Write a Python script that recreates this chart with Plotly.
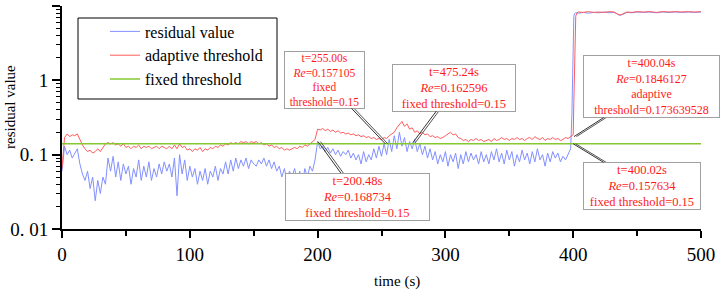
import math
import plotly.graph_objects as go

# ---------------- data ----------------
time_main = list(range(0, 400, 2))  # seconds, 2 s grid up to the fault

residual_main = [
    0.06, 0.13, 0.10, 0.115, 0.09, 0.105, 0.12, 0.075, 0.055, 0.045,
    0.06, 0.035, 0.05, 0.024, 0.045, 0.03, 0.05, 0.04, 0.09, 0.06,
    0.095, 0.05, 0.08, 0.045, 0.075, 0.055, 0.07, 0.04, 0.065, 0.05,
    0.085, 0.045, 0.07, 0.05, 0.08, 0.045, 0.065, 0.05, 0.075, 0.055,
    0.08, 0.06, 0.075, 0.05, 0.09, 0.028, 0.10, 0.055, 0.085, 0.045,
    0.07, 0.05, 0.065, 0.04, 0.06, 0.045, 0.065, 0.04, 0.06, 0.05,
    0.07, 0.045, 0.065, 0.055, 0.08, 0.055, 0.085, 0.06, 0.09, 0.065,
    0.085, 0.07, 0.09, 0.065, 0.085, 0.075, 0.07, 0.085, 0.075, 0.09,
    0.07, 0.085, 0.065, 0.08, 0.06, 0.07, 0.05, 0.065, 0.045, 0.06,
    0.05, 0.065, 0.045, 0.06, 0.04, 0.065, 0.05, 0.07, 0.06, 0.085,
    0.15, 0.12, 0.13, 0.11, 0.125, 0.105, 0.12, 0.10, 0.115, 0.095,
    0.11, 0.10, 0.115, 0.09, 0.105, 0.085, 0.10, 0.075, 0.11, 0.08,
    0.10, 0.085, 0.12, 0.09, 0.13, 0.095, 0.14, 0.10, 0.16, 0.11,
    0.18, 0.12, 0.20, 0.13, 0.17, 0.11, 0.15, 0.12, 0.16, 0.11,
    0.14, 0.10, 0.13, 0.09, 0.12, 0.085, 0.11, 0.075, 0.10, 0.08,
    0.11, 0.07, 0.10, 0.08, 0.105, 0.065, 0.10, 0.075, 0.11, 0.08,
    0.105, 0.085, 0.10, 0.075, 0.11, 0.08, 0.10, 0.075, 0.11, 0.085,
    0.12, 0.08, 0.105, 0.075, 0.115, 0.085, 0.11, 0.07, 0.10, 0.08,
    0.115, 0.085, 0.105, 0.075, 0.11, 0.08, 0.12, 0.085, 0.10, 0.07,
    0.105, 0.08, 0.11, 0.09, 0.105, 0.08, 0.095, 0.085, 0.10, 0.12,
]

adaptive_main = [
    0.065, 0.17, 0.19, 0.175, 0.185, 0.18, 0.19, 0.16, 0.135, 0.12,
    0.11, 0.115, 0.105, 0.11, 0.12, 0.11, 0.125, 0.14, 0.145, 0.14,
    0.145, 0.135, 0.14, 0.13, 0.14, 0.125, 0.13, 0.12, 0.13, 0.125,
    0.135, 0.12, 0.13, 0.125, 0.13, 0.12, 0.125, 0.13, 0.12, 0.13,
    0.125, 0.12, 0.13, 0.12, 0.135, 0.12, 0.14, 0.125, 0.13, 0.115,
    0.12, 0.11, 0.12, 0.115, 0.125, 0.11, 0.12, 0.115, 0.125, 0.12,
    0.13, 0.125, 0.135, 0.13, 0.14, 0.135, 0.145, 0.14, 0.145, 0.14,
    0.15, 0.145, 0.15, 0.14, 0.15, 0.145, 0.15, 0.14, 0.145, 0.135,
    0.14, 0.13, 0.135, 0.125, 0.13, 0.12, 0.125, 0.115, 0.12, 0.115,
    0.12, 0.125, 0.12, 0.13, 0.125, 0.135, 0.13, 0.14, 0.15, 0.16,
    0.22, 0.215, 0.225, 0.21, 0.22, 0.205, 0.215, 0.20, 0.21, 0.195,
    0.20, 0.19, 0.195, 0.185, 0.19, 0.18, 0.185, 0.175, 0.18, 0.17,
    0.175, 0.165, 0.17, 0.16, 0.165, 0.16, 0.17, 0.165, 0.18, 0.19,
    0.20, 0.23, 0.25, 0.28, 0.24, 0.26, 0.22, 0.23, 0.20, 0.21,
    0.19, 0.20, 0.185, 0.19, 0.175, 0.18, 0.17, 0.175, 0.165, 0.17,
    0.18, 0.19, 0.20, 0.185, 0.19, 0.17, 0.165, 0.155, 0.16, 0.15,
    0.16, 0.155, 0.165, 0.155, 0.16, 0.15, 0.155, 0.16, 0.15, 0.165,
    0.155, 0.16, 0.17, 0.16, 0.165, 0.155, 0.165, 0.16, 0.17, 0.16,
    0.165, 0.155, 0.165, 0.17, 0.16, 0.175, 0.165, 0.16, 0.17, 0.155,
    0.165, 0.16, 0.17, 0.16, 0.165, 0.155, 0.16, 0.17, 0.165, 0.175,
]

time_fault_res = [399, 399.5, 400, 400.5, 401, 402, 404, 408, 412, 416, 420, 424, 428,
                  432, 434, 436, 438, 440, 442, 446, 450, 455, 460, 465, 470, 475,
                  480, 485, 490, 495, 500]
residual_fault = [0.35, 1.5, 5.0, 7.2, 7.9, 8.1, 8.0, 8.2, 8.0, 8.2, 8.1, 8.3, 8.1,
                  8.2, 7.9, 7.5, 7.6, 8.0, 8.2, 8.1, 8.3, 8.2, 8.3, 8.1, 8.3, 8.2,
                  8.3, 8.2, 8.3, 8.2, 8.3]

time_fault_ad = [400, 400.5, 401, 401.5, 402, 403, 404, 408, 412, 416, 420, 424, 428,
                 432, 434, 436, 438, 440, 442, 446, 450, 455, 460, 465, 470, 475,
                 480, 485, 490, 495, 500]
adaptive_fault = [0.185, 0.5, 2.0, 5.0, 7.3, 8.1, 8.3, 8.2, 8.4, 8.2, 8.3, 8.2, 8.4,
                  8.3, 8.0, 7.6, 7.7, 8.1, 8.3, 8.2, 8.4, 8.3, 8.4, 8.2, 8.4, 8.3,
                  8.4, 8.3, 8.4, 8.3, 8.4]

time_fixed = [0, 500]
fixed_threshold = [0.14, 0.14]

x_ticks = [0, 100, 200, 300, 400, 500]
y_ticks = [0.01, 0.1, 1, 10]
y_tick_text = ["0. 01", "0. 1", "1", "10"]

# callouts: (time, value, text, box centre dx px, dy px, box width, box height, font size)
callouts = [
    (253, 0.14, "t=255.00s<br><i>Re</i>=0.157105<br>fixed<br>threshold=0.15", -61, -64, 79, 56, 11.5),
    (274.5, 0.145, "t=475.24s<br><i>Re</i>=0.162596<br>fixed threshold=0.15", 41, -55, 122, 46, 12.5),
    (200.3, 0.15, "t=200.48s<br><i>Re</i>=0.168734<br>fixed threshold=0.15", 40, 55, 143, 46, 12.5),
    (400.6, 0.175, "t=400.04s<br><i>Re</i>=0.1846127<br>adaptive<br>threshold=0.173639528", 78, -50, 135, 61, 12),
    (400.0, 0.14, "t=400.02s<br><i>Re</i>=0.157634<br>fixed threshold=0.15", 69, 42, 116, 46, 12.5),
]

# ---------------- figure ----------------
SERIF = "Times New Roman"
BLUE = "#8391ff"
RED = "#ff5c5c"
GREEN = "#86c832"

L, R, T, B = 62, 25, 6, 62
W, H = 726, 291
pw, ph = W - L - R, H - T - B


def px_x(px):
    return (px - L) / pw


def px_y(py):
    return 1 - (py - T) / ph


fig = go.Figure()
fig.add_trace(go.Scatter(x=time_main + time_fault_res, y=residual_main + residual_fault,
                         mode="lines", name="residual value",
                         line=dict(color=BLUE, width=1)))
fig.add_trace(go.Scatter(x=time_main + time_fault_ad, y=adaptive_main + adaptive_fault,
                         mode="lines", name="adaptive threshold",
                         line=dict(color=RED, width=1)))
fig.add_trace(go.Scatter(x=time_fixed, y=fixed_threshold,
                         mode="lines", name="fixed threshold",
                         line=dict(color=GREEN, width=1.5)))

annotations = []
# second (parallel) leader line of each callout, drawn first so boxes cover it
for (tx, vy, txt, dx, dy, bw, bh, fs) in callouts:
    annotations.append(dict(
        x=tx, y=math.log10(vy), xref="x", yref="y", text=" ",
        showarrow=True, arrowhead=0, arrowwidth=1, arrowcolor="#555555",
        ax=dx, ay=dy, axref="pixel", ayref="pixel", xshift=2.5,
        font=dict(family=SERIF, size=4),
    ))
for (tx, vy, txt, dx, dy, bw, bh, fs) in callouts:
    annotations.append(dict(
        x=tx, y=math.log10(vy), xref="x", yref="y",
        text=txt, showarrow=True, arrowhead=0, arrowwidth=1, arrowcolor="#333333",
        ax=dx, ay=dy, axref="pixel", ayref="pixel",
        width=bw, height=bh, valign="middle",
        font=dict(family=SERIF, size=fs, color="#ff1a1a"),
        bgcolor="white", bordercolor="#a0a0a0", borderwidth=1, borderpad=0,
        align="center",
    ))

annotations.append(dict(text="residual value", textangle=-90, x=px_x(10), y=px_y(107),
                        xref="paper", yref="paper", showarrow=False,
                        xanchor="center", yanchor="middle",
                        font=dict(family=SERIF, size=15, color="black")))
annotations.append(dict(text="time (s)", x=px_x(397), y=px_y(281), showarrow=False,
                        xref="paper", yref="paper", xanchor="center", yanchor="middle",
                        font=dict(family=SERIF, size=15, color="black")))

fig.update_layout(
    width=W, height=H,
    margin=dict(l=L, r=R, t=T, b=B),
    paper_bgcolor="white", plot_bgcolor="white",
    font=dict(family=SERIF, color="black"),
    showlegend=True,
    legend=dict(x=px_x(105), y=px_y(14.5), xanchor="left", yanchor="top",
                bgcolor="rgba(0,0,0,0)", borderwidth=0,
                font=dict(family=SERIF, size=16, color="black"),
                tracegroupgap=0),
    shapes=[dict(type="rect", xref="paper", yref="paper",
                 x0=px_x(78), x1=px_x(277), y0=px_y(99), y1=px_y(18),
                 fillcolor="white", line=dict(color="black", width=1), layer="above")],
    annotations=annotations,
)

fig.update_xaxes(
    range=[0, 500], tickvals=x_ticks, ticks="outside", ticklen=7, tickwidth=2,
    tickcolor="black", showline=True, linewidth=2, linecolor="black",
    showgrid=False, zeroline=False, tickfont=dict(family=SERIF, size=19),
    minor=dict(tickvals=[50, 150, 250, 350, 450], ticks="outside", ticklen=5,
               tickwidth=2, tickcolor="black", showgrid=False),
)

minor_y = [m * 10 ** e for e in (-2, -1, 0) for m in range(2, 10)]
fig.update_yaxes(
    type="log", range=[-2, 1], tickvals=y_ticks, ticktext=y_tick_text,
    ticks="outside", ticklen=8, tickwidth=2, tickcolor="black",
    showline=True, linewidth=2, linecolor="black", showgrid=False, zeroline=False,
    tickfont=dict(family=SERIF, size=19),
    minor=dict(tickvals=minor_y, ticks="outside", ticklen=4, tickwidth=1,
               tickcolor="black", showgrid=False),
)

fig.write_html("out.html", config={"displayModeBar": False},
               post_script="document.body.style.margin='0';document.body.style.padding='0';")
